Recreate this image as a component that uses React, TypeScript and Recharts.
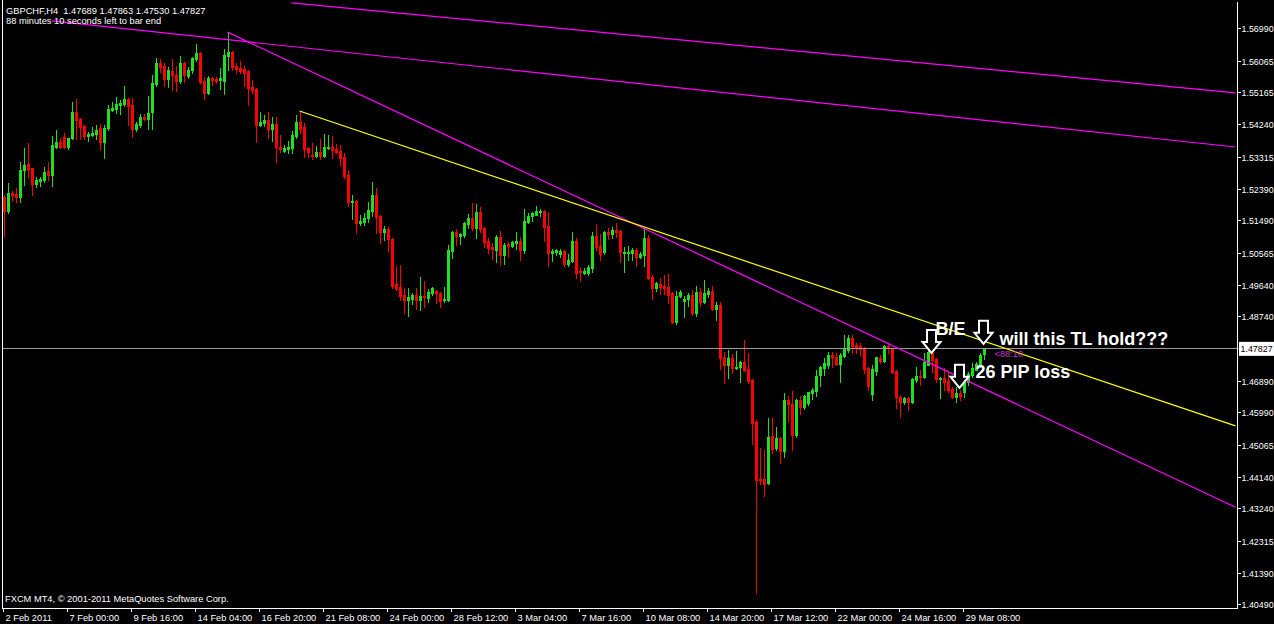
import { ComposedChart, Bar, XAxis, YAxis, ReferenceLine, ReferenceDot } from "recharts";

// GBPCHF H4 candles (oldest first)
const OPEN = [
  1.5218, 1.5178, 1.5229, 1.5227, 1.5218, 1.5295, 1.5313, 1.5301, 1.5255, 1.5263,
  1.5266, 1.5292, 1.5281, 1.5361, 1.5375, 1.5390, 1.5361, 1.5387, 1.5461, 1.5441,
  1.5421, 1.5393, 1.5396, 1.5399, 1.5415, 1.5375, 1.5415, 1.5467, 1.5470, 1.5482,
  1.5484, 1.5498, 1.5482, 1.5412, 1.5424, 1.5447, 1.5441, 1.5461, 1.5542, 1.5602,
  1.5593, 1.5556, 1.5579, 1.5568, 1.5550, 1.5602, 1.5565, 1.5582, 1.5613, 1.5630,
  1.5550, 1.5515, 1.5559, 1.5556, 1.5553, 1.5550, 1.5622, 1.5633, 1.5593, 1.5588,
  1.5585, 1.5579, 1.5533, 1.5527, 1.5424, 1.5429, 1.5438, 1.5412, 1.5427, 1.5361,
  1.5349, 1.5355, 1.5358, 1.5393, 1.5432, 1.5418, 1.5358, 1.5338, 1.5335, 1.5346,
  1.5335, 1.5358, 1.5361, 1.5355, 1.5349, 1.5333, 1.5281, 1.5203, 1.5206, 1.5143,
  1.5146, 1.5158, 1.5178, 1.5224, 1.5164, 1.5117, 1.5126, 1.5097, 1.4969, 1.4960,
  1.4937, 1.4923, 1.4926, 1.4937, 1.4923, 1.4934, 1.4928, 1.4942, 1.4948, 1.4942,
  1.4923, 1.4923, 1.5063, 1.5117, 1.5106, 1.5109, 1.5140, 1.5158, 1.5129, 1.5175,
  1.5129, 1.5092, 1.5075, 1.5066, 1.5103, 1.5052, 1.5084, 1.5078, 1.5086, 1.5092,
  1.5066, 1.5146, 1.5164, 1.5167, 1.5175, 1.5178, 1.5135, 1.5057, 1.5060, 1.5055,
  1.5063, 1.5026, 1.5034, 1.5092, 1.5006, 1.5000, 1.5000, 1.5014, 1.5106, 1.5078,
  1.5060, 1.5117, 1.5111, 1.5123, 1.5120, 1.5058, 1.5057, 1.5057, 1.5066, 1.5046,
  1.5052, 1.5100, 1.4989, 1.4957, 1.4969, 1.4963, 1.4960, 1.4942, 1.4860, 1.4934,
  1.4920, 1.4926, 1.4937, 1.4885, 1.4945, 1.4917, 1.4940, 1.4948, 1.4897, 1.4908,
  1.4759, 1.4737, 1.4756, 1.4728, 1.4731, 1.4745, 1.4725, 1.4694, 1.4573, 1.4410,
  1.4410, 1.4399, 1.4533, 1.4499, 1.4527, 1.4490, 1.4636, 1.4625, 1.4536, 1.4636,
  1.4616, 1.4627, 1.4656, 1.4662, 1.4708, 1.4728, 1.4737, 1.4765, 1.4759, 1.4739,
  1.4762, 1.4779, 1.4814, 1.4794, 1.4791, 1.4785, 1.4728, 1.4654, 1.4719, 1.4756,
  1.4748, 1.4791, 1.4782, 1.4719, 1.4645, 1.4630, 1.4642, 1.4630, 1.4694, 1.4705,
  1.4702, 1.4737, 1.4773, 1.4754, 1.4697, 1.4699, 1.4691, 1.4668, 1.4645, 1.4656,
  1.4659, 1.4688, 1.4708, 1.4722, 1.4734, 1.47689,
];

const HIGH = [
  1.5224, 1.5257, 1.5235, 1.5243, 1.5318, 1.5358, 1.5372, 1.5301, 1.5275, 1.5275,
  1.5304, 1.5318, 1.5393, 1.5410, 1.5387, 1.5401, 1.5387, 1.5490, 1.5498, 1.5444,
  1.5424, 1.5404, 1.5418, 1.5424, 1.5427, 1.5424, 1.5482, 1.5490, 1.5504, 1.5496,
  1.5536, 1.5501, 1.5501, 1.5432, 1.5456, 1.5456, 1.5507, 1.5568, 1.5616, 1.5613,
  1.5602, 1.5590, 1.5613, 1.5593, 1.5622, 1.5605, 1.5590, 1.5619, 1.5656, 1.5633,
  1.5562, 1.5565, 1.5562, 1.5562, 1.5588, 1.5642, 1.5690, 1.5636, 1.5602, 1.5607,
  1.5593, 1.5582, 1.5553, 1.5530, 1.5461, 1.5453, 1.5461, 1.5447, 1.5447, 1.5396,
  1.5367, 1.5378, 1.5407, 1.5453, 1.5464, 1.5429, 1.5361, 1.5372, 1.5364, 1.5384,
  1.5399, 1.5396, 1.5393, 1.5370, 1.5367, 1.5343, 1.5295, 1.5224, 1.5209, 1.5167,
  1.5172, 1.5203, 1.5260, 1.5243, 1.5167, 1.5135, 1.5132, 1.5100, 1.5020, 1.5023,
  1.4957, 1.4957, 1.4942, 1.4957, 1.4989, 1.4977, 1.4954, 1.4960, 1.4951, 1.4945,
  1.4960, 1.5081, 1.5120, 1.5126, 1.5114, 1.5146, 1.5170, 1.5200, 1.5198, 1.5189,
  1.5132, 1.5100, 1.5086, 1.5109, 1.5120, 1.5086, 1.5089, 1.5092, 1.5117, 1.5103,
  1.5184, 1.5172, 1.5175, 1.5192, 1.5184, 1.5181, 1.5175, 1.5069, 1.5069, 1.5069,
  1.5066, 1.5055, 1.5117, 1.5100, 1.5017, 1.5014, 1.5023, 1.5117, 1.5141, 1.5111,
  1.5120, 1.5129, 1.5132, 1.5143, 1.5123, 1.5075, 1.5078, 1.5072, 1.5072, 1.5060,
  1.5129, 1.5109, 1.4994, 1.4974, 1.4986, 1.4994, 1.4997, 1.4945, 1.4948, 1.4951,
  1.4934, 1.4942, 1.4951, 1.4963, 1.4957, 1.4980, 1.4957, 1.4963, 1.4917, 1.4917,
  1.4773, 1.4779, 1.4768, 1.4776, 1.4748, 1.4808, 1.4771, 1.4697, 1.4579, 1.4499,
  1.4493, 1.4585, 1.4585, 1.4559, 1.4530, 1.4656, 1.4648, 1.4662, 1.4639, 1.4648,
  1.4651, 1.4659, 1.4671, 1.4722, 1.4734, 1.4756, 1.4773, 1.4773, 1.4771, 1.4771,
  1.4822, 1.4822, 1.4822, 1.4799, 1.4799, 1.4788, 1.4731, 1.4737, 1.4759, 1.4765,
  1.4794, 1.4799, 1.4785, 1.4722, 1.4651, 1.4645, 1.4645, 1.4699, 1.4731, 1.4722,
  1.4771, 1.4782, 1.4785, 1.4756, 1.4702, 1.4728, 1.4714, 1.4674, 1.4674, 1.4665,
  1.4702, 1.4716, 1.4742, 1.4745, 1.4771, 1.47863,
];

const LOW = [
  1.5106, 1.5172, 1.5206, 1.5203, 1.5203, 1.5252, 1.5275, 1.5224, 1.5246, 1.5249,
  1.5260, 1.5266, 1.5249, 1.5358, 1.5358, 1.5358, 1.5355, 1.5384, 1.5384, 1.5384,
  1.5384, 1.5378, 1.5393, 1.5384, 1.5355, 1.5330, 1.5410, 1.5464, 1.5458, 1.5456,
  1.5479, 1.5424, 1.5390, 1.5407, 1.5418, 1.5438, 1.5412, 1.5412, 1.5536, 1.5576,
  1.5536, 1.5533, 1.5524, 1.5521, 1.5544, 1.5547, 1.5559, 1.5573, 1.5607, 1.5544,
  1.5498, 1.5513, 1.5539, 1.5544, 1.5527, 1.5513, 1.5582, 1.5582, 1.5573, 1.5573,
  1.5536, 1.5482, 1.5515, 1.5375, 1.5421, 1.5421, 1.5387, 1.5378, 1.5318, 1.5346,
  1.5346, 1.5343, 1.5343, 1.5387, 1.5401, 1.5333, 1.5333, 1.5327, 1.5333, 1.5327,
  1.5333, 1.5355, 1.5330, 1.5343, 1.5310, 1.5272, 1.5192, 1.5155, 1.5114, 1.5138,
  1.5138, 1.5146, 1.5164, 1.5114, 1.5086, 1.5095, 1.5063, 1.4957, 1.4951, 1.4923,
  1.4885, 1.4877, 1.4911, 1.4897, 1.4894, 1.4903, 1.4917, 1.4937, 1.4914, 1.4903,
  1.4917, 1.4920, 1.5043, 1.5081, 1.5084, 1.5103, 1.5129, 1.5123, 1.5100, 1.5117,
  1.5075, 1.5057, 1.5040, 1.5031, 1.5023, 1.5026, 1.5046, 1.5075, 1.5069, 1.5037,
  1.5057, 1.5143, 1.5149, 1.5167, 1.5164, 1.5092, 1.5020, 1.5034, 1.5052, 1.5046,
  1.5020, 1.5020, 1.5031, 1.4986, 1.4977, 1.4997, 1.4994, 1.5003, 1.5066, 1.5037,
  1.5055, 1.5097, 1.5100, 1.5103, 1.5031, 1.5003, 1.5037, 1.5037, 1.5020, 1.5043,
  1.5020, 1.4983, 1.4926, 1.4948, 1.4940, 1.4940, 1.4914, 1.4857, 1.4854, 1.4931,
  1.4874, 1.4906, 1.4880, 1.4877, 1.4906, 1.4914, 1.4931, 1.4894, 1.4865, 1.4725,
  1.4685, 1.4699, 1.4713, 1.4725, 1.4688, 1.4719, 1.4685, 1.4511, 1.4083, 1.4396,
  1.4361, 1.4396, 1.4484, 1.4493, 1.4456, 1.4473, 1.4576, 1.4493, 1.4530, 1.4596,
  1.4610, 1.4622, 1.4639, 1.4648, 1.4676, 1.4708, 1.4728, 1.4731, 1.4737, 1.4688,
  1.4759, 1.4773, 1.4771, 1.4771, 1.4765, 1.4713, 1.4665, 1.4636, 1.4708, 1.4742,
  1.4745, 1.4771, 1.4713, 1.4613, 1.4588, 1.4625, 1.4608, 1.4627, 1.4688, 1.4679,
  1.4699, 1.4737, 1.4716, 1.4688, 1.4642, 1.4665, 1.4659, 1.4642, 1.4630, 1.4636,
  1.4645, 1.4679, 1.4702, 1.4722, 1.4731, 1.47530,
];

const CLOSE = [
  1.5178, 1.5229, 1.5224, 1.5218, 1.5295, 1.5310, 1.5298, 1.5255, 1.5266, 1.5269,
  1.5289, 1.5281, 1.5367, 1.5375, 1.5361, 1.5361, 1.5387, 1.5461, 1.5438, 1.5418,
  1.5393, 1.5399, 1.5401, 1.5410, 1.5375, 1.5415, 1.5470, 1.5473, 1.5484, 1.5487,
  1.5498, 1.5479, 1.5412, 1.5427, 1.5447, 1.5441, 1.5458, 1.5544, 1.5602, 1.5590,
  1.5556, 1.5582, 1.5568, 1.5550, 1.5602, 1.5568, 1.5582, 1.5616, 1.5630, 1.5547,
  1.5515, 1.5559, 1.5553, 1.5550, 1.5559, 1.5625, 1.5633, 1.5590, 1.5585, 1.5579,
  1.5573, 1.5530, 1.5524, 1.5424, 1.5432, 1.5438, 1.5412, 1.5427, 1.5361, 1.5355,
  1.5358, 1.5361, 1.5396, 1.5432, 1.5412, 1.5355, 1.5346, 1.5335, 1.5346, 1.5335,
  1.5361, 1.5361, 1.5352, 1.5346, 1.5330, 1.5278, 1.5203, 1.5206, 1.5143, 1.5149,
  1.5158, 1.5181, 1.5224, 1.5161, 1.5117, 1.5126, 1.5097, 1.4963, 1.4957, 1.4934,
  1.4923, 1.4931, 1.4937, 1.4923, 1.4934, 1.4931, 1.4945, 1.4957, 1.4942, 1.4920,
  1.4926, 1.5066, 1.5117, 1.5106, 1.5111, 1.5143, 1.5158, 1.5129, 1.5175, 1.5126,
  1.5089, 1.5072, 1.5069, 1.5103, 1.5052, 1.5081, 1.5078, 1.5089, 1.5092, 1.5066,
  1.5149, 1.5164, 1.5172, 1.5178, 1.5178, 1.5132, 1.5057, 1.5063, 1.5066, 1.5063,
  1.5026, 1.5037, 1.5092, 1.5000, 1.5003, 1.5006, 1.5017, 1.5106, 1.5075, 1.5055,
  1.5117, 1.5111, 1.5123, 1.5117, 1.5060, 1.5060, 1.5060, 1.5066, 1.5046, 1.5055,
  1.5100, 1.4986, 1.4957, 1.4971, 1.4960, 1.4957, 1.4937, 1.4860, 1.4934, 1.4945,
  1.4926, 1.4937, 1.4885, 1.4945, 1.4917, 1.4942, 1.4948, 1.4897, 1.4908, 1.4756,
  1.4737, 1.4756, 1.4728, 1.4731, 1.4745, 1.4722, 1.4691, 1.4570, 1.4407, 1.4407,
  1.4396, 1.4530, 1.4496, 1.4527, 1.4490, 1.4636, 1.4625, 1.4536, 1.4636, 1.4616,
  1.4648, 1.4659, 1.4665, 1.4705, 1.4731, 1.4742, 1.4765, 1.4759, 1.4739, 1.4765,
  1.4782, 1.4814, 1.4791, 1.4788, 1.4782, 1.4725, 1.4676, 1.4725, 1.4759, 1.4748,
  1.4791, 1.4785, 1.4716, 1.4645, 1.4630, 1.4642, 1.4630, 1.4697, 1.4705, 1.4702,
  1.4745, 1.4773, 1.4751, 1.4697, 1.4699, 1.4688, 1.4665, 1.4645, 1.4656, 1.4648,
  1.4688, 1.4711, 1.4728, 1.4739, 1.4765, 1.47827,
];

// one time label every 16 bars
const TIME_LABELS = [
  "2 Feb 2011", "7 Feb 00:00", "9 Feb 16:00", "14 Feb 04:00", "16 Feb 20:00",
  "21 Feb 08:00", "24 Feb 00:00", "28 Feb 12:00", "3 Mar 04:00", "7 Mar 16:00",
  "10 Mar 08:00", "14 Mar 20:00", "17 Mar 12:00", "22 Mar 00:00", "24 Mar 16:00",
  "29 Mar 08:00",
];
const LABEL_STEP = 16;
const EMPTY_BARS = 63; // chart shift area on the right

const PRICE_TICKS = [
  1.4049, 1.4139, 1.42315, 1.4324, 1.4414, 1.45065, 1.4599, 1.4689, 1.47827,
  1.4874, 1.4964, 1.50565, 1.5149, 1.5239, 1.53315, 1.5424, 1.55165, 1.56065, 1.5699,
];
const LAST_PRICE = 1.47827;
const PRICE_DOMAIN = [1.40404, 1.57763];

// trendlines: [bar, price] -> [bar, price]
const MAGENTA_LINES = [
  [[72, 1.5774], [308, 1.5516]],
  [[12, 1.5722], [308, 1.5361]],
  [[56, 1.569], [308, 1.4329]],
];
const YELLOW_LINE = [[74, 1.5464], [308, 1.4562]];

// chart objects placed by the trader
const ARROWS = [
  { bar: 232, price: 1.4771 },
  { bar: 245, price: 1.4797 },
  { bar: 239, price: 1.4671 },
];
const NOTES = [
  { bar: 233, price: 1.4823, text: "B/E" },
  { bar: 249, price: 1.4794, text: "will this TL hold???" },
  { bar: 243, price: 1.4699, text: "26 PIP loss" },
];
const TIMER = { bar: 248, price: 1.4759, text: "<88:10" };

const BULL = "#1ee01e";
const BEAR = "#ff0000";
const SMALL_FONT = "'Liberation Sans', Arial, sans-serif";

const chartData = [...Array(OPEN.length + EMPTY_BARS)].map((_, i) =>
  i < OPEN.length
    ? { i, open: OPEN[i], high: HIGH[i], low: LOW[i], close: CLOSE[i], range: [LOW[i], HIGH[i]] }
    : { i, range: null }
);

const Candle = (props: any) => {
  const { x, y, width, height, payload } = props;
  if (payload.open == null) return null;
  const { open, high, low, close } = payload;
  const span = high - low;
  const yOf = (v: number) => (span === 0 ? y : y + ((high - v) / span) * height);
  const color = close >= open ? BULL : BEAR;
  const cx = x + width / 2;
  const hi = Math.round(y);
  const lo = Math.round(y + height);
  const top = Math.round(yOf(Math.max(open, close)));
  const bot = Math.round(yOf(Math.min(open, close)));
  return (
    <g shapeRendering="crispEdges">
      <rect x={cx - 0.5} y={hi} width={1} height={Math.max(1, lo - hi + 1)} fill={color} />
      <rect x={cx - 1.5} y={top} width={3} height={Math.max(1, bot - top + 1)} fill={color} />
    </g>
  );
};

const TimeTick = (props: any) => {
  const { x, y, payload } = props;
  const label = TIME_LABELS[payload.value / LABEL_STEP];
  return (
    <g>
      <line x1={x} x2={x} y1={y} y2={y + 4} stroke="#fff" shapeRendering="crispEdges" />
      <text x={x + 2} y={y + 12.5} fill="#fff" fontSize={9.3} fontFamily={SMALL_FONT}>
        {label}
      </text>
    </g>
  );
};

const PriceTick = (props: any) => {
  const { x, y, payload } = props;
  const v = payload.value;
  if (v === LAST_PRICE) {
    return (
      <g>
        <line x1={x} x2={x + 2} y1={y} y2={y} stroke="#9b9b9b" />
        <rect x={x + 1.5} y={y - 7} width={40} height={14} fill="#fff" />
        <text x={x + 3} y={y + 3.5} fill="#000" fontSize={8.9} fontFamily={SMALL_FONT}>
          {v.toFixed(5)}
        </text>
      </g>
    );
  }
  return (
    <g>
      <line x1={x} x2={x + 3} y1={y} y2={y} stroke="#fff" shapeRendering="crispEdges" />
      <text x={x + 4} y={y + 3.5} fill="#fff" fontSize={8.9} fontFamily={SMALL_FONT}>
        {v.toFixed(5)}
      </text>
    </g>
  );
};

const Arrow = (p: any) => {
  const { cx, cy } = p;
  const d = `M${cx - 4.5},${cy - 23} H${cx + 4.5} V${cy - 11} H${cx + 9} L${cx},${cy} L${cx - 9},${cy - 11} H${cx - 4.5} Z`;
  return <path d={d} fill="#000" stroke="#fff" strokeWidth={2} strokeLinejoin="miter" />;
};

export default function App() {
  return (
    <div style={{ position: "relative", width: 1274, height: 624, background: "#000", overflow: "hidden" }}>
      <style>{"body{margin:0;background:#000}"}</style>
      <ComposedChart
        width={1274}
        height={624}
        data={chartData}
        margin={{ top: 2, right: 0, bottom: 0, left: 1.5 }}
      >
        <XAxis
          dataKey="i"
          type="category"
          height={16}
          ticks={TIME_LABELS.map((_, k) => k * LABEL_STEP)}
          interval={0}
          tickSize={0}
          tickMargin={0}
          tickLine={false}
          axisLine={{ stroke: "#fff", shapeRendering: "crispEdges" }}
          tick={<TimeTick />}
        />
        <YAxis
          orientation="right"
          type="number"
          width={36.5}
          domain={PRICE_DOMAIN}
          allowDataOverflow
          ticks={PRICE_TICKS}
          interval={0}
          tickSize={0}
          tickMargin={0}
          tickLine={false}
          axisLine={{ stroke: "#fff", shapeRendering: "crispEdges" }}
          tick={<PriceTick />}
        />
        <ReferenceLine y={LAST_PRICE} stroke="#9b9b9b" shapeRendering="crispEdges" />
        <Bar dataKey="range" barSize={3} shape={<Candle />} isAnimationActive={false} />
        {MAGENTA_LINES.map(([a, b], k) => (
          <ReferenceLine
            key={k}
            segment={[{ x: a[0], y: a[1] }, { x: b[0], y: b[1] }]}
            stroke="#ff00ff"
            strokeWidth={1.2}
            ifOverflow="visible"
          />
        ))}
        <ReferenceLine
          segment={[{ x: YELLOW_LINE[0][0], y: YELLOW_LINE[0][1] }, { x: YELLOW_LINE[1][0], y: YELLOW_LINE[1][1] }]}
          stroke="#ffff00"
          strokeWidth={1.2}
          ifOverflow="visible"
        />
        {ARROWS.map((a, k) => (
          <ReferenceDot key={`a${k}`} x={a.bar} y={a.price} r={1} shape={<Arrow />} ifOverflow="visible" />
        ))}
        {NOTES.map((n, k) => (
          <ReferenceDot
            key={`n${k}`}
            x={n.bar}
            y={n.price}
            r={1}
            ifOverflow="visible"
            shape={(p: any) => (
              <text
                x={p.cx}
                y={p.cy}
                fill="#fff"
                fontSize={18}
                fontWeight={700}
                fontFamily="'Liberation Sans', Arial, sans-serif"
              >
                {n.text}
              </text>
            )}
          />
        ))}
        <ReferenceDot
          x={TIMER.bar}
          y={TIMER.price}
          r={1}
          ifOverflow="visible"
          shape={(p: any) => (
            <text x={p.cx - 1} y={p.cy} fill="#cc33cc" fontSize={9.3} fontFamily={SMALL_FONT}>
              {TIMER.text}
            </text>
          )}
        />
      </ComposedChart>
      <svg
        width={1274}
        height={624}
        style={{ position: "absolute", left: 0, top: 0, pointerEvents: "none" }}
      >
        <line x1={2.5} x2={2.5} y1={0} y2={609} stroke="#fff" />
        <text x={6} y={14} fill="#fff" fontSize={9.3} fontFamily={SMALL_FONT} style={{ whiteSpace: "pre" }}>
          {`GBPCHF,H4  ${OPEN[OPEN.length - 1].toFixed(5)} ${HIGH[HIGH.length - 1].toFixed(5)} ${LOW[LOW.length - 1].toFixed(5)} ${CLOSE[CLOSE.length - 1].toFixed(5)}`}
        </text>
        <text x={6} y={24} fill="#fff" fontSize={9.3} fontFamily={SMALL_FONT}>
          88 minutes 10 seconds left to bar end
        </text>
        <text x={5} y={602} fill="#fff" fontSize={9.3} fontFamily={SMALL_FONT}>
          FXCM MT4, © 2001-2011 MetaQuotes Software Corp.
        </text>
      </svg>
    </div>
  );
}
